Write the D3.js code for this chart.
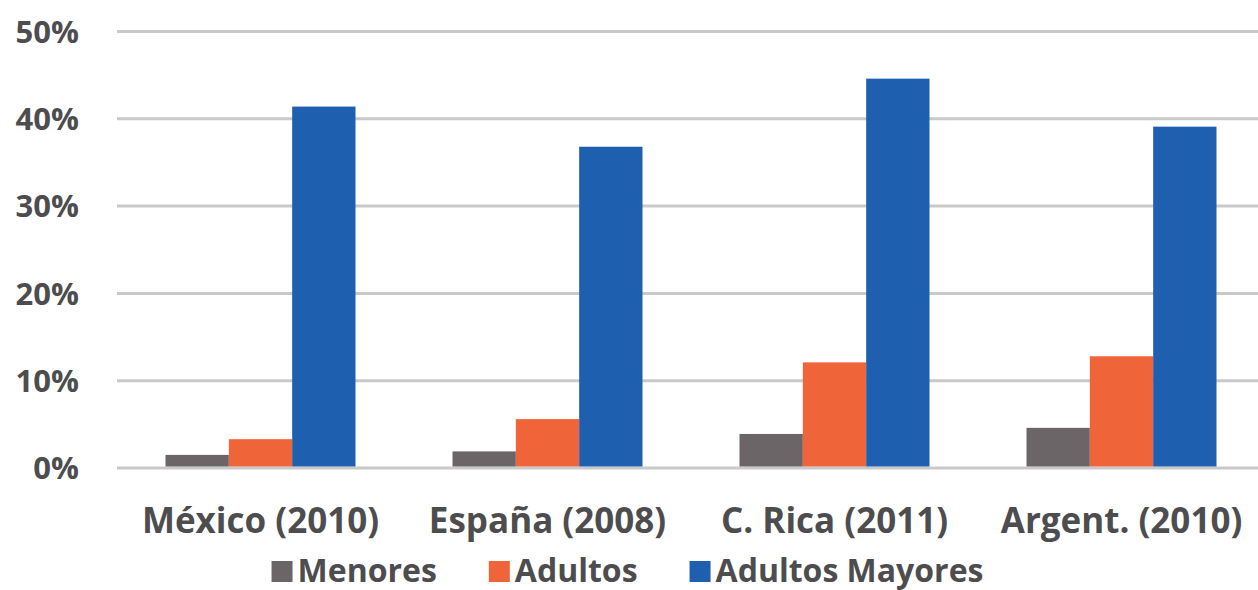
<!DOCTYPE html>
<html>
<head>
<meta charset="utf-8">
<script src="https://cdn.jsdelivr.net/npm/d3@7"></script>
<style>
  body { margin: 0; background: #fff; }
  text { font-family: "Open Sans", Lato, sans-serif; font-weight: 700; fill: #4d4d4f; }
</style>
</head>
<body>
<svg id="chart" width="1258" height="590"></svg>
<script>
// data
const countries = ['México (2010)', 'España (2008)', 'C. Rica (2011)', 'Argent. (2010)'];
const groups = ['Menores', 'Adultos', 'Adultos Mayores'];
const menores = [1.5, 1.9, 3.9, 4.6];
const adultos = [3.3, 5.6, 12.1, 12.8];
const mayores = [41.4, 36.8, 44.6, 39.1];
const yTicks = [0, 10, 20, 30, 40, 50];

const colors = ['#6b6567', '#f0643a', '#1f5fb0'];
const series = [menores, adultos, mayores];

const svg = d3.select('#chart');
const plotLeft = 117;
const plotRight = 1265;
const plotTop = 31.5;
const plotBottom = 468;

const x = d3.scaleBand().domain(countries).range([plotLeft, plotRight])
  .paddingInner(0.338).paddingOuter(0.169);
const xSub = d3.scaleBand().domain(groups).range([0, x.bandwidth()]);
const y = d3.scaleLinear().domain([0, 50]).range([plotBottom, plotTop]);

// gridlines
svg.append('g').selectAll('line')
  .data(yTicks)
  .join('line')
  .attr('x1', plotLeft)
  .attr('x2', 1258)
  .attr('y1', (d) => y(d))
  .attr('y2', (d) => y(d))
  .attr('stroke', '#c9c9c9')
  .attr('stroke-width', 3);

// y labels
svg.append('g').selectAll('text')
  .data(yTicks)
  .join('text')
  .attr('x', 79)
  .attr('y', (d) => y(d))
  .attr('dy', '0.36em')
  .attr('text-anchor', 'end')
  .style('font-size', '31px')
  .text((d) => `${d}%`);

// bars
const rows = countries.map((c, i) => groups.map((g, j) => ({ c, g, v: series[j][i], j })));
svg.append('g').selectAll('g')
  .data(rows)
  .join('g')
  .attr('transform', (d) => `translate(${x(d[0].c)},0)`)
  .selectAll('rect')
  .data((d) => d)
  .join('rect')
  .attr('x', (d) => xSub(d.g))
  .attr('width', xSub.bandwidth())
  .attr('y', (d) => y(d.v))
  .attr('height', (d) => y(0) - y(d.v) - 1.5)
  .attr('fill', (d) => colors[d.j]);

// category labels
svg.append('g').selectAll('text')
  .data(countries)
  .join('text')
  .attr('x', (d) => x(d) + x.bandwidth() / 2)
  .attr('y', 533)
  .attr('text-anchor', 'middle')
  .style('font-size', '35px')
  .text((d) => d);

// legend
const legend = svg.append('g');
const items = legend.selectAll('g')
  .data(groups)
  .join('g');
items.append('rect')
  .attr('width', 21)
  .attr('height', 21)
  .attr('y', 561)
  .attr('fill', (d, i) => colors[i]);
items.append('text')
  .attr('x', 26)
  .attr('y', 582)
  .style('font-size', '32px')
  .text((d) => d);

let cx = 0;
const gap = 52;
items.each(function () {
  const w = this.getBBox().width;
  this.__x = cx;
  cx += w + gap;
});
const total = cx - gap;
const startX = 627.5 - total / 2;
items.attr('transform', function () { return `translate(${startX + this.__x},0)`; });
</script>
</body>
</html>
